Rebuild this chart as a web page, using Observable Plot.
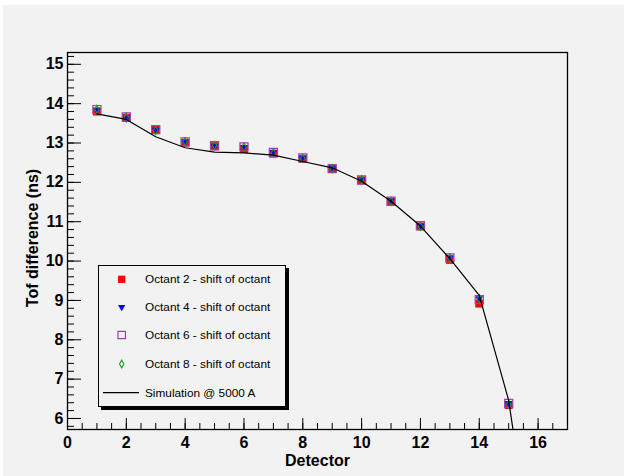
<!DOCTYPE html>
<html>
<head>
<meta charset="utf-8">
<script src="https://cdn.jsdelivr.net/npm/d3@7"></script>
<script src="https://cdn.jsdelivr.net/npm/@observablehq/plot@0.6"></script>
<style>
  html, body { margin: 0; padding: 0; background: #ffffff; }
  #wrap { position: relative; width: 624px; height: 476px; overflow: hidden; font-family: "Liberation Sans", Arial, Helvetica, sans-serif; }
  #pad { position: absolute; left: 3px; top: 5px; width: 621px; height: 471px; background: #f2f2f2; }
  #legend { position: absolute; left: 98px; top: 265px; width: 186px; height: 140px; border: 1px solid #000; background: #f2f2f2; box-shadow: 3px 3px 0 #000; }
  #legend svg { display: block; }
</style>
</head>
<body>
<div id="wrap">
  <div id="pad"></div>
  <div id="legend"></div>
</div>
<script>
// ---- data ----
const detector   = [1, 2, 3, 4, 5, 6, 7, 8, 9, 10, 11, 12, 13, 14, 15];
const octant2    = [13.80, 13.64, 13.33, 13.01, 12.92, 12.85, 12.73, 12.60, 12.34, 12.05, 11.51, 10.88, 10.03, 8.92, 6.34];
const octant4    = [13.84, 13.62, 13.33, 13.02, 12.92, 12.89, 12.76, 12.61, 12.35, 12.06, 11.53, 10.89, 10.09, 9.05, 6.39];
const octant6    = [13.85, 13.66, 13.34, 13.03, 12.93, 12.90, 12.76, 12.62, 12.35, 12.06, 11.52, 10.90, 10.08, 9.02, 6.38];
const octant8    = [13.86, 13.66, 13.32, 13.04, 12.94, 12.90, 12.75, 12.61, 12.35, 12.07, 11.52, 10.88, 10.08, 9.04, 6.36];
const simDetector = [1, 2, 3, 4, 5, 6, 7, 8, 9, 10, 11, 12, 13, 14, 15, 16];
const simulation  = [13.74, 13.60, 13.16, 12.88, 12.77, 12.75, 12.69, 12.53, 12.37, 12.03, 11.52, 10.89, 10.06, 9.13, 6.46, 1.4];
const xTickLabels = [0, 2, 4, 6, 8, 10, 12, 14, 16];
const yTickLabels = [6, 7, 8, 9, 10, 11, 12, 13, 14, 15];
const legendLabels = ["Octant 2 - shift of octant", "Octant 4 - shift of octant", "Octant 6 - shift of octant", "Octant 8 - shift of octant", "Simulation @ 5000 A"];
const xTitle = "Detector";
const yTitle = "Tof difference (ns)";

// ---- tables built from the arrays ----
const rows = detector.map((d, i) => ({detector: d, o2: octant2[i], o4: octant4[i], o6: octant6[i], o8: octant8[i]}));
const simRows = simDetector.map((d, i) => ({detector: d, value: simulation[i]}));
const xMinor = d3.range(0, 17.01, 0.5);
const yMinor = d3.range(5.8, 15.31, 0.2).map(v => +v.toFixed(1));

const RED = "#ff0000", BLUE = "#0000ff", PURPLE = "#a040b0", GREEN = "#1c961c";
const FONT = "Liberation Sans, Arial, Helvetica, sans-serif";

const chart = Plot.plot({
  width: 621,
  height: 471,
  marginLeft: 64,
  marginRight: 57,
  marginTop: 47,
  marginBottom: 47,
  style: {background: "#f2f2f2", fontFamily: FONT, color: "#000", overflow: "visible"},
  x: {domain: [0, 17], label: null},
  y: {domain: [5.72, 15.3], label: null},
  marks: [
    // inward ticks (ROOT style)
    Plot.axisX({ticks: xMinor, tickSize: 6, dy: -6, fill: "none", label: null}),
    Plot.axisX({ticks: xTickLabels, tickSize: 11, dy: -11, fill: "none", label: null}),
    Plot.axisY({ticks: yMinor, tickSize: 7, dx: 7, fill: "none", label: null}),
    Plot.axisY({ticks: yTickLabels, tickSize: 14, dx: 14, fill: "none", label: null}),
    // tick labels
    Plot.axisX({ticks: xTickLabels, tickSize: 0, tickPadding: 7, fontSize: 16, fontWeight: "bold", label: null}),
    Plot.axisY({ticks: yTickLabels, tickSize: 0, tickPadding: 4, fontSize: 16, fontWeight: "bold", label: null}),
    // axis titles
    Plot.text([xTitle], {text: d => d, frameAnchor: "bottom", dy: 31.5, lineAnchor: "middle", textAnchor: "middle", fontSize: 16, fontWeight: "bold"}),
    Plot.text([yTitle], {text: d => d, frameAnchor: "left", dx: -35, dy: -3, rotate: -90, lineAnchor: "middle", textAnchor: "middle", fontSize: 16, fontWeight: "bold"}),
    // data markers
    Plot.dot(rows, {x: "detector", y: "o2", symbol: "square", r: 4.5, fill: RED, stroke: "none"}),
    Plot.dot(rows, {x: "detector", y: "o4", symbol: "triangle", rotate: 180, r: 2.9, fill: BLUE, stroke: "none"}),
    Plot.dot(rows, {x: "detector", y: "o6", symbol: "square", r: 4.6, fill: "none", stroke: PURPLE, strokeWidth: 1.2}),
    Plot.dot(rows, {x: "detector", y: "o8", symbol: "diamond", r: 2.4, fill: "none", stroke: GREEN, strokeWidth: 1.1}),
    // simulation curve
    Plot.line(simRows, {x: "detector", y: "value", stroke: "#000", strokeWidth: 1.2, clip: true}),
    Plot.frame({stroke: "#000", strokeWidth: 1.3})
  ]
});
document.getElementById("pad").appendChild(chart);

// ---- legend ----
const lg = d3.select("#legend").append("svg").attr("width", 186).attr("height", 140);
const rowY = [13.3, 41, 69, 98, 126.7];
const symX = 22.7, textX = 46;
const sym = (type, r) => d3.symbol(type, r * r * Math.PI)();
lg.append("path").attr("d", sym(d3.symbolSquare, 4.1)).attr("transform", `translate(${symX},${rowY[0]})`).attr("fill", RED);
lg.append("path").attr("d", sym(d3.symbolTriangle, 2.7)).attr("transform", `translate(${symX},${rowY[1]}) rotate(180)`).attr("fill", BLUE);
lg.append("path").attr("d", sym(d3.symbolSquare, 4.2)).attr("transform", `translate(${symX},${rowY[2]})`).attr("fill", "none").attr("stroke", PURPLE).attr("stroke-width", 1.2);
lg.append("path").attr("d", sym(d3.symbolDiamond, 2.3)).attr("transform", `translate(${symX},${rowY[3]})`).attr("fill", "none").attr("stroke", GREEN).attr("stroke-width", 1.1);
lg.append("line").attr("x1", 4).attr("x2", 40).attr("y1", rowY[4]).attr("y2", rowY[4]).attr("stroke", "#000").attr("stroke-width", 1.2);
lg.selectAll("text.lab").data(legendLabels).join("text")
  .attr("class", "lab")
  .attr("x", textX)
  .attr("y", (d, i) => rowY[i])
  .attr("dy", "0.35em")
  .attr("font-family", FONT)
  .attr("font-size", 11.8)
  .attr("fill", "#000")
  .text(d => d);
</script>
</body>
</html>
